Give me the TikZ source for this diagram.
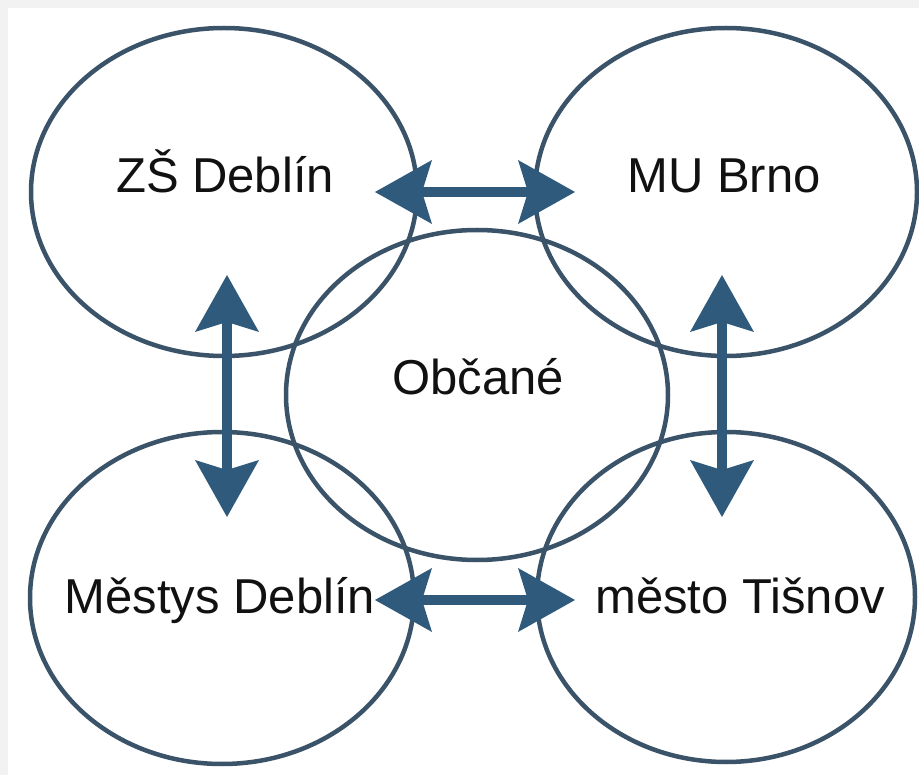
\documentclass[tikz,border=0pt]{standalone}
\usepackage{fontspec}
\setmainfont{Liberation Sans}
\usetikzlibrary{shapes.geometric,arrows.meta}
\definecolor{ring}{HTML}{3A5368}
\definecolor{arr}{HTML}{2F5A7C}
\definecolor{framegray}{HTML}{F2F2F2}
\definecolor{ink}{HTML}{111111}
\begin{document}
\begin{tikzpicture}[x=1pt,y=-1pt,
  circ/.style={ellipse, draw=ring, line width=4.5pt, inner sep=0pt},
  lbl/.style={font=\fontsize{49}{56}\selectfont, text=ink, anchor=base, inner sep=0pt},
  biarrow/.style={draw=arr, line width=10pt,
    arrows={Stealth[length=57pt,width=64pt,inset=10pt,line width=0pt]-Stealth[length=57pt,width=64pt,inset=10pt,line width=0pt]}}]
\useasboundingbox (0,0) rectangle (919,775);
\fill[framegray] (0,0) rectangle (919,775);
\fill[white] (8,8) rectangle (919,775);

% ellipses
\node[circ, minimum width=386pt, minimum height=328pt] (zs) at (224,192) {};
\node[circ, minimum width=382pt, minimum height=328pt] (mu) at (726,192) {};
\node[circ, minimum width=382pt, minimum height=330pt] (ob) at (477,395) {};
\node[circ, minimum width=384pt, minimum height=332pt] (md) at (222,598) {};
\node[circ, minimum width=378pt, minimum height=330pt] (mt) at (726,597) {};

% labels
\node[lbl] (tzs) at (225,193) {ZŠ Deblín};
\node[lbl] (tmu) at (724,193) {MU Brno};
\node[lbl] (tob) at (478,395) {Občané};
\node[lbl] (tmd) at (220,613) {Městys Deblín};
\node[lbl] (tmt) at (740,613) {město Tišnov};

% arrow end points
\coordinate (a1) at (375,192);
\coordinate (a2) at (575,192);
\coordinate (b1) at (375,600);
\coordinate (b2) at (575,600);
\coordinate (c1) at (227,275);
\coordinate (c2) at (227,517);
\coordinate (d1) at (722,275);
\coordinate (d2) at (722,517);

\draw[biarrow] (a1) -- (a2);
\draw[biarrow] (b1) -- (b2);
\draw[biarrow] (c1) -- (c2);
\draw[biarrow] (d1) -- (d2);
\end{tikzpicture}
\end{document}
